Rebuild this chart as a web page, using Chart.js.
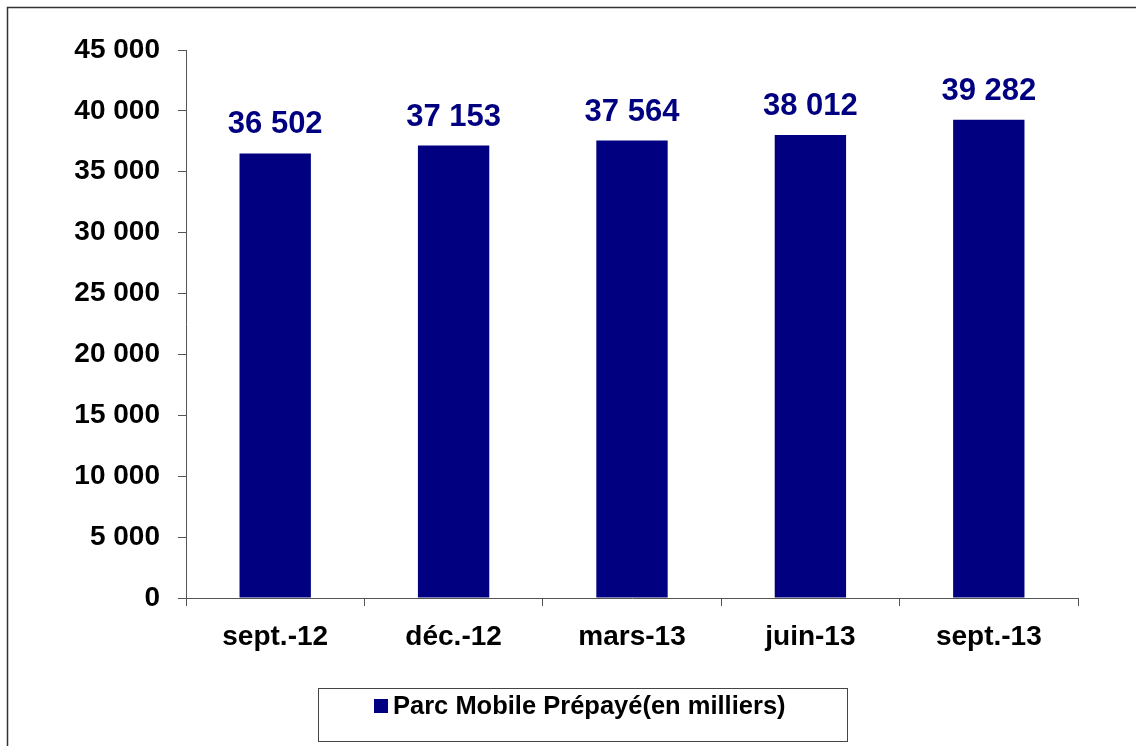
<!DOCTYPE html>
<html>
<head>
<meta charset="utf-8">
<script src="https://cdn.jsdelivr.net/npm/chart.js@4"></script>
<style>
  body { margin: 0; background: #fff; }
  #wrap { width: 1136px; height: 746px; }
</style>
</head>
<body>
<div id="wrap"><canvas id="myChart" width="1136" height="746"></canvas></div>
<script>
const labels = ['sept.-12', 'déc.-12', 'mars-13', 'juin-13', 'sept.-13'];
const parcPrepaye = [36502, 37153, 37564, 38012, 39282];
const serieNom = 'Parc Mobile Prépayé(en milliers)';

const police = '"Liberation Sans", Arial, sans-serif';
const navy = '#000080';

// 45000 -> "45 000"
function espaces(v) {
    return String(v).replace(/\B(?=(\d{3})+(?!\d))/g, ' ');
}

// valeurs au dessus des barres
const etiquettes = {
    id: 'etiquettes',
    afterDatasetsDraw(chart) {
        const ctx = chart.ctx;
        const meta = chart.getDatasetMeta(0);
        ctx.save();
        ctx.font = 'bold 31px ' + police;
        ctx.fillStyle = navy;
        ctx.textAlign = 'center';
        ctx.textBaseline = 'alphabetic';
        meta.data.forEach((bar, i) => {
            ctx.fillText(espaces(parcPrepaye[i]), bar.x, bar.y - 20);
        });
        ctx.restore();
    }
};

// cadre exterieur + legende encadree
const cadre = {
    id: 'cadre',
    afterDraw(chart) {
        const ctx = chart.ctx;
        const area = chart.chartArea;
        ctx.save();
        ctx.strokeStyle = '#333';
        ctx.lineWidth = 1.5;
        ctx.strokeRect(7.5, 7.5, chart.width + 20, chart.height + 20);

        const boxX = area.left + 132, boxY = area.bottom + 90;
        ctx.lineWidth = 1;
        ctx.strokeStyle = '#444';
        ctx.strokeRect(boxX + 0.5, boxY + 0.5, 529, 53);

        ctx.fillStyle = navy;
        ctx.fillRect(boxX + 56, boxY + 11, 14, 14);
        ctx.fillStyle = '#000';
        ctx.font = 'bold 25.5px ' + police;
        ctx.textBaseline = 'middle';
        ctx.textAlign = 'left';
        ctx.fillText(serieNom, boxX + 75, boxY + 19);
        ctx.restore();
    }
};

const data = {
    labels: labels,
    datasets: [{
        label: serieNom,
        data: parcPrepaye,
        backgroundColor: navy,
        borderWidth: 0,
        categoryPercentage: 1,
        barPercentage: 0.4
    }]
};

const config = {
    type: 'bar',
    data: data,
    options: {
        responsive: false,
        animation: false,
        layout: {
            padding: { left: 0, top: 50, right: 58, bottom: 0 }
        },
        scales: {
            x: {
                grid: {
                    display: true,
                    offset: true,
                    drawOnChartArea: false,
                    drawTicks: true,
                    tickLength: 8,
                    color: '#555'
                },
                border: { display: true, color: '#555', width: 1 },
                ticks: {
                    color: '#000',
                    padding: 14,
                    font: { family: police, size: 28, weight: 'bold' }
                },
                afterFit: (scale) => { scale.height = 148; }
            },
            y: {
                min: 0,
                max: 45000,
                grid: {
                    display: true,
                    drawOnChartArea: false,
                    drawTicks: true,
                    tickLength: 8,
                    color: '#555'
                },
                border: { display: true, color: '#555', width: 1 },
                ticks: {
                    stepSize: 5000,
                    color: '#000',
                    padding: 18,
                    font: { family: police, size: 28, weight: 'bold' },
                    callback: (v) => espaces(v)
                },
                afterFit: (scale) => { scale.width = 186; }
            }
        },
        plugins: {
            legend: { display: false },
            tooltip: { enabled: false }
        }
    },
    plugins: [etiquettes, cadre]
};

const graficoParc = new Chart(document.getElementById('myChart'), config);
</script>
</body>
</html>
